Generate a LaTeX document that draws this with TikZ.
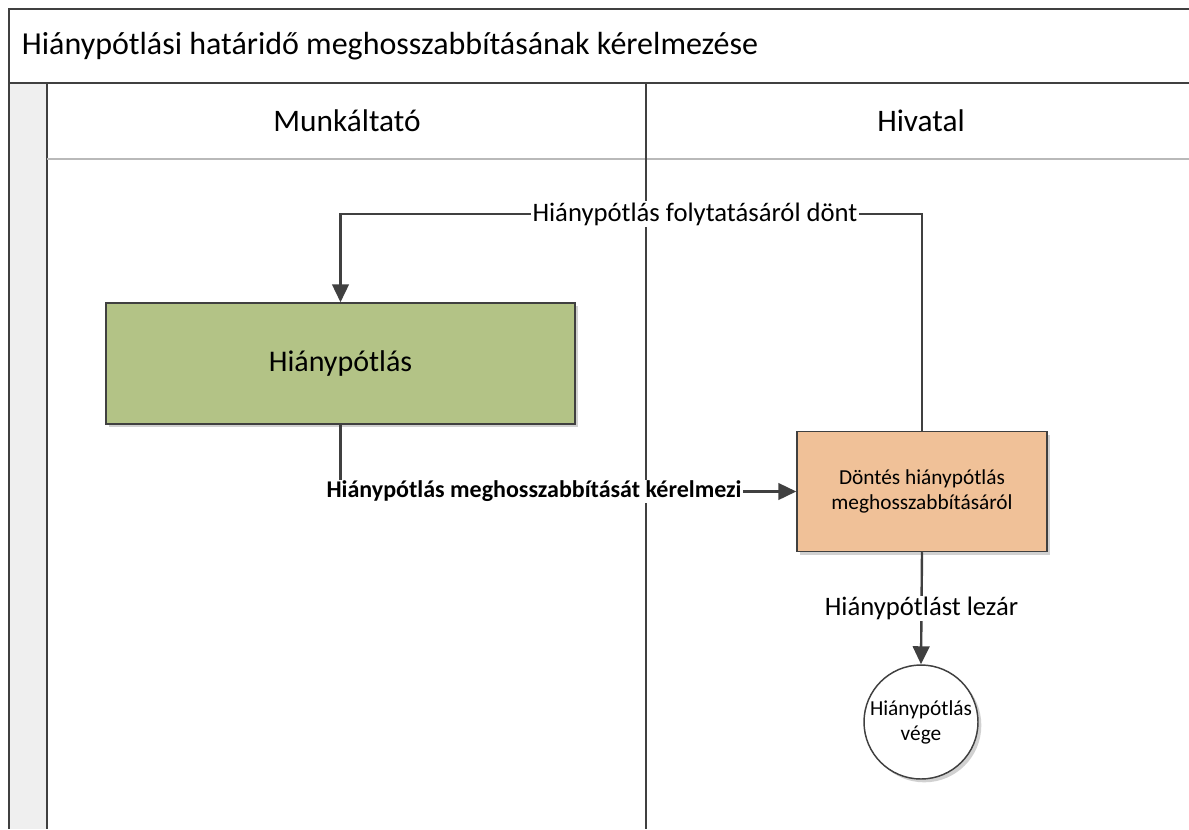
\documentclass[tikz,border=0pt]{standalone}
\usepackage{fontspec}
\setmainfont{Carlito}
\usetikzlibrary{arrows.meta,shadows}

\definecolor{vonal}{RGB}{64,64,64}
\definecolor{zold}{RGB}{179,195,134}
\definecolor{narancs}{RGB}{240,193,152}
\definecolor{savszurke}{RGB}{239,239,239}

\tikzset{every picture/.style={line width=0.75pt}}
\tikzset{
	keret/.style={draw=vonal, line width=1.5pt},
	doboz/.style={draw=vonal, line width=1.1pt, align=center, inner sep=2pt,
		drop shadow={shadow xshift=2.5pt, shadow yshift=-2.5pt, fill=black, opacity=0.18}},
	nyil/.style={draw=vonal, line width=1.8pt, -{Triangle[length=13.5pt,width=12.5pt]}},
	felirat/.style={fill=white, inner sep=1pt, font=\fontsize{20}{24}\selectfont},
}

\begin{document}
\begin{tikzpicture}[x=0.75pt,y=0.75pt,yscale=-1,xscale=1]
	\useasboundingbox (0,0) rectangle (1189,829); %set diagram left start at 0, and has height of 829

	%Shape: Rectangle [id:gray strip]
	\fill [savszurke] (9,83) rectangle (47,829);
	%Straight Lines [id:frame]
	\draw [keret] (1189,9) -- (9,9) -- (9,829) ;
	\draw [keret] (9,83) -- (1189,83) ;
	\draw [keret] (47,83) -- (47,829) ;
	\draw [draw=gray!55, line width=1.5pt] (47,159) -- (1189,159) ;
	\draw [keret] (646,83) -- (646,829) ;

	% Text Node
	\node (cim) [anchor=west, font=\fontsize{24}{28}\selectfont] at (17,46) {Hiánypótlási határidő meghosszabbításának kérelmezése};
	% Text Node
	\node (munkaltato) [font=\fontsize{23.5}{28}\selectfont] at (347,121) {Munkáltató};
	% Text Node
	\node (hivatal) [font=\fontsize{23.5}{28}\selectfont] at (921,121) {Hivatal};

	%Shape: Rectangle [id:hianypotlas]
	\node (hiany) [doboz, fill=zold, minimum width=351.75pt, minimum height=90.75pt,
		font=\fontsize{22.5}{27}\selectfont] at (340.5,363.5) {Hiánypótlás};
	%Shape: Rectangle [id:dontes]
	\node (dontes) [doboz, fill=narancs, minimum width=187.5pt, minimum height=90pt,
		font=\fontsize{16}{18.75}\selectfont] at (922,491.5) {Döntés hiánypótlás\\meghosszabbításáról};
	%Shape: Circle [id:vege]
	\node (veg) [doboz, circle, fill=white, minimum size=85.5pt, inner sep=0pt,
		font=\fontsize{16}{18.75}\selectfont] at (921,722) {Hiánypótlás\\vége};

	\coordinate (fordulo) at (600,214);

	%Straight Lines [id:folytatas]
	\draw [nyil] (dontes.north) |- (fordulo) -| (hiany.north) ;
	%Straight Lines [id:kerelem]
	\draw [nyil] (hiany.south) |- (dontes.west) ;
	%Straight Lines [id:lezar]
	\draw [nyil] (dontes.south) -- node (lezar) [felirat] {Hiánypótlást lezár} (veg.north) ;

	% Text Node
	\node (folytat) [felirat] at (695,214) {Hiánypótlás folytatásáról dönt};
	% Text Node
	\node (kerelmezi) [felirat, font=\fontsize{18}{21}\selectfont\bfseries] at (534,491.5) {Hiánypótlás meghosszabbítását kérelmezi};

\end{tikzpicture}
\end{document}
